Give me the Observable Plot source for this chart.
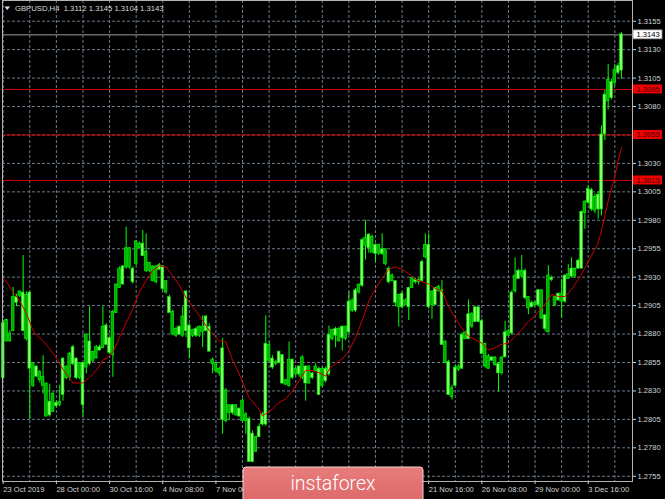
<!DOCTYPE html>
<html><head><meta charset="utf-8">
<script src="https://cdn.jsdelivr.net/npm/d3@7"></script>
<script src="https://cdn.jsdelivr.net/npm/@observablehq/plot@0.6"></script>
<style>html,body{margin:0;padding:0;background:#000;overflow:hidden}#chart svg{display:block}</style>
</head><body><div id="chart"></div>
<script>
const symbolTitle = "GBPUSD,H4";
const lastOHLC = [1.3112, 1.3145, 1.3104, 1.3143];

const open = [1.2842,1.2892,1.2880,1.2912,1.2908,1.2917,1.2883,1.2914,1.2850,1.2854,1.2843,1.2846,1.2842,1.2836,1.2809,1.2827,1.2817,1.2820,1.2827,1.2851,1.2862,1.2854,1.2842,1.2854,1.2818,1.2879,1.2854,1.2864,1.2868,1.2866,1.2886,1.2871,1.2864,1.2899,1.2923,1.2937,1.2924,1.2955,1.2955,1.2926,1.2961,1.2959,1.2949,1.2952,1.2942,1.2939,1.2939,1.2937,1.2920,1.2926,1.2899,1.2899,1.2884,1.2880,1.2895,1.2883,1.2868,1.2883,1.2879,1.2886,1.2886,1.2883,1.2865,1.2857,1.2854,1.2849,1.2805,1.2830,1.2817,1.2811,1.2817,1.2808,1.2821,1.2809,1.2768,1.2768,1.2789,1.2790,1.2801,1.2801,1.2870,1.2851,1.2855,1.2855,1.2837,1.2839,1.2857,1.2842,1.2849,1.2845,1.2859,1.2837,1.2851,1.2842,1.2851,1.2827,1.2849,1.2839,1.2845,1.2883,1.2879,1.2884,1.2877,1.2886,1.2882,1.2909,1.2901,1.2923,1.2923,1.2964,1.2956,1.2965,1.2951,1.2958,1.2951,1.2954,1.2926,1.2931,1.2908,1.2914,1.2904,1.2909,1.2904,1.2929,1.2926,1.2927,1.2927,1.2958,1.2904,1.2917,1.2906,1.2921,1.2871,1.2873,1.2827,1.2832,1.2835,1.2851,1.2850,1.2881,1.2876,1.2897,1.2891,1.2891,1.2863,1.2871,1.2860,1.2857,1.2859,1.2846,1.2859,1.2860,1.2882,1.2881,1.2931,1.2929,1.2935,1.2912,1.2912,1.2904,1.2907,1.2906,1.2918,1.2885,1.2931,1.2928,1.2912,1.2910,1.2915,1.2909,1.2932,1.2931,1.2937,1.2938,1.2938,1.2996,1.2996,1.2990,1.3000,1.2990,1.2990,1.3056,1.3103,1.3088,1.3112,1.3110,1.3112];
const high = [1.2892,1.2893,1.2883,1.2921,1.2915,1.2918,1.2949,1.2917,1.2917,1.2855,1.2852,1.2848,1.2861,1.2837,1.2836,1.2829,1.2821,1.2835,1.2859,1.2852,1.2864,1.2870,1.2859,1.2855,1.2855,1.2880,1.2904,1.2865,1.2870,1.2870,1.2904,1.2889,1.2877,1.2901,1.2924,1.2939,1.2940,1.2974,1.2956,1.2939,1.2962,1.2961,1.2971,1.2968,1.2943,1.2940,1.2940,1.2942,1.2940,1.2927,1.2914,1.2901,1.2886,1.2887,1.2904,1.2918,1.2889,1.2884,1.2886,1.2887,1.2896,1.2896,1.2889,1.2859,1.2855,1.2851,1.2876,1.2832,1.2818,1.2818,1.2818,1.2815,1.2823,1.2811,1.2807,1.2795,1.2790,1.2801,1.2811,1.2896,1.2873,1.2861,1.2857,1.2865,1.2862,1.2840,1.2873,1.2858,1.2851,1.2852,1.2861,1.2852,1.2852,1.2846,1.2854,1.2851,1.2851,1.2851,1.2887,1.2884,1.2886,1.2886,1.2887,1.2887,1.2917,1.2911,1.2920,1.2924,1.2964,1.2980,1.2968,1.2967,1.2959,1.2959,1.2968,1.2955,1.2939,1.2933,1.2927,1.2915,1.2917,1.2911,1.2921,1.2930,1.2929,1.2929,1.2945,1.2968,1.2968,1.2918,1.2921,1.2923,1.2927,1.2874,1.2857,1.2835,1.2853,1.2853,1.2881,1.2882,1.2910,1.2899,1.2904,1.2904,1.2893,1.2872,1.2862,1.2860,1.2860,1.2855,1.2860,1.2891,1.2884,1.2918,1.2947,1.2937,1.2949,1.2937,1.2913,1.2909,1.2909,1.2919,1.2919,1.2897,1.2940,1.2931,1.2913,1.2916,1.2928,1.2932,1.2941,1.2947,1.2938,1.2946,1.2988,1.2997,1.3010,1.3008,1.3003,1.3005,1.3063,1.3094,1.3117,1.3104,1.3117,1.3118,1.3145];
const low = [1.2840,1.2873,1.2873,1.2882,1.2904,1.2912,1.2882,1.2874,1.2805,1.2833,1.2842,1.2837,1.2827,1.2807,1.2807,1.2811,1.2815,1.2816,1.2821,1.2840,1.2839,1.2852,1.2840,1.2840,1.2807,1.2845,1.2852,1.2855,1.2858,1.2865,1.2867,1.2870,1.2862,1.2842,1.2898,1.2920,1.2923,1.2937,1.2937,1.2924,1.2940,1.2955,1.2948,1.2934,1.2934,1.2926,1.2924,1.2936,1.2918,1.2915,1.2898,1.2879,1.2877,1.2879,1.2877,1.2877,1.2858,1.2877,1.2877,1.2877,1.2868,1.2882,1.2864,1.2845,1.2846,1.2843,1.2792,1.2802,1.2804,1.2809,1.2808,1.2807,1.2802,1.2792,1.2767,1.2767,1.2776,1.2789,1.2799,1.2799,1.2855,1.2849,1.2852,1.2854,1.2836,1.2835,1.2833,1.2840,1.2843,1.2842,1.2840,1.2821,1.2836,1.2840,1.2846,1.2826,1.2833,1.2837,1.2843,1.2874,1.2868,1.2873,1.2865,1.2874,1.2880,1.2899,1.2899,1.2915,1.2921,1.2945,1.2951,1.2951,1.2943,1.2949,1.2949,1.2940,1.2924,1.2926,1.2904,1.2886,1.2902,1.2905,1.2892,1.2920,1.2924,1.2923,1.2926,1.2946,1.2902,1.2893,1.2905,1.2917,1.2870,1.2854,1.2826,1.2822,1.2834,1.2847,1.2849,1.2875,1.2875,1.2885,1.2890,1.2890,1.2862,1.2850,1.2849,1.2856,1.2852,1.2829,1.2844,1.2859,1.2878,1.2879,1.2916,1.2928,1.2929,1.2910,1.2897,1.2903,1.2904,1.2904,1.2893,1.2882,1.2881,1.2926,1.2904,1.2909,1.2894,1.2907,1.2928,1.2929,1.2929,1.2937,1.2937,1.2972,1.2994,1.2988,1.2986,1.2981,1.2984,1.3050,1.3077,1.3086,1.3098,1.3108,1.3104];
const close = [1.2889,1.2874,1.2874,1.2883,1.2912,1.2914,1.2916,1.2876,1.2916,1.2835,1.2851,1.2840,1.2835,1.2808,1.2820,1.2812,1.2819,1.2818,1.2858,1.2842,1.2842,1.2868,1.2858,1.2842,1.2854,1.2851,1.2873,1.2857,1.2859,1.2868,1.2868,1.2887,1.2876,1.2862,1.2899,1.2921,1.2939,1.2939,1.2939,1.2937,1.2942,1.2956,1.2959,1.2936,1.2936,1.2927,1.2926,1.2940,1.2939,1.2917,1.2912,1.2880,1.2879,1.2886,1.2879,1.2917,1.2887,1.2879,1.2884,1.2879,1.2882,1.2895,1.2886,1.2854,1.2848,1.2846,1.2867,1.2804,1.2811,1.2817,1.2809,1.2814,1.2804,1.2804,1.2805,1.2792,1.2777,1.2798,1.2809,1.2871,1.2857,1.2858,1.2854,1.2864,1.2861,1.2836,1.2835,1.2857,1.2845,1.2851,1.2842,1.2851,1.2837,1.2845,1.2848,1.2849,1.2835,1.2849,1.2879,1.2876,1.2884,1.2874,1.2886,1.2876,1.2908,1.2901,1.2918,1.2917,1.2962,1.2958,1.2967,1.2952,1.2958,1.2951,1.2954,1.2942,1.2937,1.2927,1.2926,1.2904,1.2915,1.2906,1.2920,1.2921,1.2927,1.2926,1.2943,1.2948,1.2958,1.2906,1.2920,1.2918,1.2918,1.2855,1.2855,1.2825,1.2850,1.2849,1.2879,1.2876,1.2897,1.2887,1.2903,1.2903,1.2891,1.2852,1.2850,1.2859,1.2853,1.2853,1.2846,1.2881,1.2879,1.2916,1.2918,1.2935,1.2931,1.2935,1.2903,1.2907,1.2906,1.2918,1.2894,1.2896,1.2882,1.2929,1.2906,1.2915,1.2909,1.2931,1.2929,1.2937,1.2931,1.2944,1.2987,1.2987,1.3007,1.3006,1.2989,1.3002,1.3055,1.3090,1.3085,1.3101,1.3101,1.3115,1.3143];

const maBars = [0,1,3,5,7,9,10,12,14,16,18,19,21,22,24,26,28,30,32,33,35,37,39,41,43,45,47,49,51,53,55,57,59,62,65,67,69,71,74,77,78,79,81,83,85,87,89,91,93,95,97,98,100,102,104,106,108,110,112,114,116,118,120,122,124,126,128,130,132,134,136,138,140,142,144,146,148,150,152,154,156,158,160,162,164,165,167,169,171,173,175,177,179,180,182,184,185,186];
const maValues = [1.2929,1.2926,1.2917,1.2909,1.2898,1.2883,1.2879,1.2874,1.2867,1.2859,1.2849,1.2845,1.2837,1.2837,1.2837,1.2842,1.2848,1.2857,1.2861,1.2864,1.2877,1.2890,1.2902,1.2917,1.2927,1.2936,1.2940,1.2939,1.2931,1.2923,1.2912,1.2904,1.2896,1.2883,1.2874,1.2873,1.2857,1.2845,1.2824,1.2814,1.2808,1.2810,1.2814,1.2820,1.2823,1.2830,1.2839,1.2848,1.2848,1.2846,1.2843,1.2849,1.2854,1.2858,1.2865,1.2877,1.2892,1.2909,1.2920,1.2929,1.2937,1.2939,1.2937,1.2933,1.2928,1.2926,1.2924,1.2920,1.2918,1.2904,1.2894,1.2885,1.2878,1.2875,1.2872,1.2866,1.2868,1.2871,1.2872,1.2878,1.2884,1.2891,1.2896,1.2903,1.2910,1.2915,1.2913,1.2913,1.2919,1.2928,1.2938,1.2949,1.2960,1.2971,1.2997,1.3019,1.3032,1.3044];

// time labels every 16 bars; the three covered by the watermark are not visible in the reference
const tickBars = [0,16,32,48,64,80,96,112,128,144,160,176];
const tickLabels = ["23 Oct 2019","28 Oct 00:00","30 Oct 16:00","4 Nov 08:00","7 Nov 00:00","","","","21 Nov 16:00","26 Nov 08:00","29 Nov 00:00","3 Dec 16:00"];
const priceTicks = [1.2755,1.2780,1.2805,1.2830,1.2855,1.2880,1.2905,1.2930,1.2955,1.2980,1.3005,1.3030,1.3055,1.3080,1.3105,1.3130,1.3155];
const levels = [1.3095, 1.3055, 1.3015];
const lastPrice = 1.3143;
const watermark = "instaforex";

const bars = open.map((o, i) => ({i, o, h: high[i], l: low[i], c: close[i], up: close[i] >= o}));
const ma = maBars.map((b, k) => ({b, v: maValues[k]}));
const gridCols = d3.range(0, 190, 8);
const FONT = "'Liberation Sans', Arial, sans-serif";
const fmt = d3.format(".4f");
const gridStyle = {stroke: "#6b7a8a", strokeOpacity: 1, strokeDasharray: "3,2"};

const chart = Plot.plot({
  width: 665, height: 499,
  marginTop: 0, marginBottom: 18, marginLeft: 2, marginRight: 33,
  style: {background: "#000", color: "#d4d4d4", fontFamily: FONT, fontSize: "7.6px"},
  x: {type: "linear", domain: [-0.21, 189.32]},
  y: {type: "linear", domain: [1.27504, 1.31732]},
  marks: [
    Plot.gridY(priceTicks, gridStyle),
    Plot.gridX(gridCols, gridStyle),
    Plot.ruleY([lastPrice], {stroke: "#9c9c9c"}),
    Plot.ruleY(levels, {stroke: "#d00000"}),
    Plot.ruleX(bars, {x: "i", y1: "l", y2: "h", stroke: "#00ff00", strokeWidth: 1}),
    Plot.rect(bars, {
      x1: d => d.i - 0.4, x2: d => d.i + 0.4, y1: "o", y2: "c",
      fill: d => d.up ? "#8cff6c" : "#00a800",
      stroke: "#00f000", strokeWidth: 0.7,
      insetTop: -0.5, insetBottom: -0.5
    }),
    Plot.line(ma, {x: "b", y: "v", stroke: "#d00000", strokeWidth: 1}),
    Plot.axisY(priceTicks, {anchor: "right", tickFormat: d => levels.includes(d) ? "" : fmt(d), tickSize: 3, tickPadding: 2, fontSize: 7.6, fontFamily: FONT}),
    Plot.axisX(tickBars, {anchor: "bottom", tickFormat: d => tickLabels[tickBars.indexOf(d)], textAnchor: "start", tickSize: 3, tickPadding: 2, fontSize: 7.6, fontFamily: FONT}),
    Plot.frame({stroke: "#b4b4b4"})
  ]
});
document.getElementById("chart").appendChild(chart);

const sy = chart.scale("y");
const svg = d3.select(chart);

// level label boxes on the price axis
const boxes = svg.append("g").attr("text-anchor", "start");
levels.forEach(v => {
  const y = sy.apply(v);
  boxes.append("rect").attr("x", 633).attr("y", y - 4.5).attr("width", 29).attr("height", 9).attr("fill", "#f00000");
  boxes.append("text").attr("x", 636.5).attr("y", y + 2.8).attr("fill", "#3a0000")
    .attr("font-family", FONT).attr("font-size", 7.6).text(fmt(v));
});
{
  const y = sy.apply(lastPrice);
  boxes.append("rect").attr("x", 633).attr("y", y - 4.5).attr("width", 29).attr("height", 9)
    .attr("fill", "#ffffff").attr("stroke", "#8a8a8a").attr("stroke-width", 0.8);
  boxes.append("text").attr("x", 636.5).attr("y", y + 2.8).attr("fill", "#000")
    .attr("font-family", FONT).attr("font-size", 7.6).text(fmt(lastPrice));
}

// header
const head = svg.append("g").attr("text-anchor", "start");
head.append("path").attr("d", "M4.5,6.5 L10,6.5 L7.25,10 Z").attr("fill", "#e6e6e6");
head.append("text").attr("x", 15).attr("y", 11).attr("fill", "#dcdcdc")
  .attr("font-family", FONT).attr("font-size", 7.7).attr("xml:space", "preserve").style("white-space", "pre")
  .text(symbolTitle + "  " + lastOHLC.map(fmt).join(" "));

// watermark
const defs = svg.append("defs");
const grad = defs.append("linearGradient").attr("id", "wm").attr("x1", 0).attr("y1", 0).attr("x2", 0).attr("y2", 1);
grad.append("stop").attr("offset", "0%").attr("stop-color", "#e87c7c");
grad.append("stop").attr("offset", "100%").attr("stop-color", "#dc6666");
const wm = svg.append("g");
wm.append("rect").attr("x", 243).attr("y", 467).attr("width", 180).attr("height", 40).attr("rx", 3)
  .attr("fill", "url(#wm)").attr("stroke", "#f6d2d2").attr("stroke-width", 1);
wm.append("text").attr("x", 333).attr("y", 490).attr("text-anchor", "middle")
  .attr("fill", "#ffffff").attr("font-family", "Roboto, 'Open Sans', sans-serif").attr("font-weight", 300)
  .attr("font-size", 19.5).text(watermark);
</script>
</body></html>
